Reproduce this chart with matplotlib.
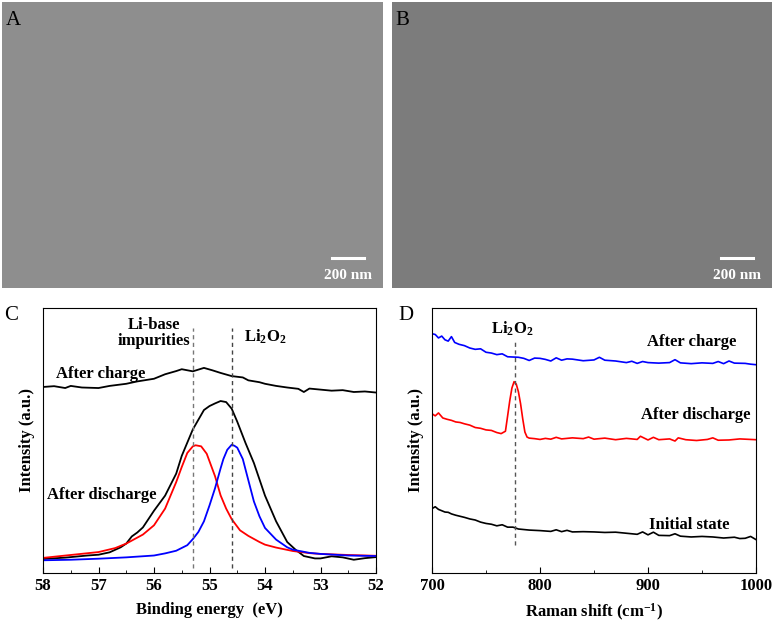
import matplotlib
matplotlib.use("Agg")
import matplotlib.pyplot as plt

plt.rcParams['font.family'] = ['Liberation Serif', 'DejaVu Serif']
plt.rcParams['mathtext.fontset'] = 'custom'
plt.rcParams['mathtext.rm'] = 'Liberation Serif:bold'
plt.rcParams['mathtext.it'] = 'Liberation Serif:bold'
plt.rcParams['mathtext.bf'] = 'Liberation Serif:bold'

# ---- panel C: XPS Li 1s ----
be_charge = [58.0, 57.8, 57.6, 57.5, 57.3, 57.0, 56.8, 56.5, 56.3, 56.0, 55.8, 55.6,
             55.5, 55.3, 55.1, 54.95, 54.8, 54.6, 54.4, 54.3, 54.1, 54.0, 53.8,
             53.6, 53.4, 53.3, 53.2, 53.0, 52.8, 52.6, 52.4, 52.2, 52.0]
int_charge = [70.2, 70.5, 69.8, 70.6, 70.0, 69.8, 70.6, 71.4, 72.3, 73.3, 75.0, 76.2,
              76.9, 76.1, 77.4, 76.5, 75.5, 74.3, 73.8, 72.7, 72.0, 71.4, 70.6,
              70.0, 69.5, 68.3, 69.6, 69.2, 68.8, 69.0, 68.3, 68.5, 68.1]

be_dis = [58.0, 57.6, 57.2, 57.0, 56.8, 56.6, 56.5, 56.4, 56.3, 56.2, 56.0, 55.8,
          55.6, 55.5, 55.3, 55.1, 55.0, 54.9, 54.8, 54.7, 54.6, 54.5, 54.35,
          54.2, 54.0, 53.8, 53.6, 53.45, 53.3, 53.1, 53.0, 52.8, 52.6, 52.4,
          52.2, 52.0]
int_dis = [5.3, 5.8, 6.6, 6.9, 7.8, 9.7, 11.1, 13.8, 15.3, 17.2, 23.5, 29.2,
           37.5, 44.2, 54.2, 61.5, 63.0, 64.0, 64.9, 64.5, 62.0, 57.1, 49.0,
           41.5, 29.2, 19.5, 11.7, 8.8, 6.4, 5.5, 5.5, 6.3, 5.9, 5.0, 5.6, 6.0]

be_red = [58.0, 57.5, 57.0, 56.7, 56.5, 56.2, 56.0, 55.8, 55.6, 55.5, 55.4, 55.3,
          55.25, 55.15, 55.05, 54.9, 54.8, 54.7, 54.6, 54.45, 54.3, 54.1, 54.0,
          53.8, 53.5, 53.2, 53.0, 52.5, 52.0]
int_red = [5.7, 6.8, 7.9, 9.4, 11.1, 14.5, 18.0, 24.3, 34.3, 40.0, 45.3, 47.8,
           48.2, 47.8, 45.0, 36.5, 29.3, 24.3, 20.3, 16.1, 14.0, 11.7, 10.7,
           9.6, 8.3, 7.5, 7.2, 6.8, 6.5]

be_blue = [58.0, 57.5, 57.0, 56.5, 56.0, 55.8, 55.6, 55.4, 55.3, 55.2, 55.1, 55.0,
           54.9, 54.8, 54.75, 54.68, 54.6, 54.55, 54.5, 54.4, 54.3, 54.2, 54.1,
           54.0, 53.8, 53.6, 53.5, 53.2, 53.0, 52.5, 52.0]
int_blue = [4.8, 5.0, 5.4, 5.9, 6.6, 7.4, 8.4, 10.5, 12.8, 15.5, 19.5, 25.5,
            32.0, 39.5, 43.0, 46.5, 48.4, 48.0, 47.3, 43.0, 35.0, 27.0, 21.4,
            17.0, 12.6, 9.7, 8.8, 7.6, 7.2, 6.6, 6.4]

# ---- panel D: Raman ----
rs_charge = [700, 703, 706, 709, 712, 715, 718, 721, 725, 730, 735, 740, 745, 750, 755,
             760, 765, 770, 775, 780, 785, 790, 795, 800, 805, 810, 815, 820, 825,
             830, 840, 850, 855, 860, 870, 880, 885, 890, 895, 900, 910, 920, 925,
             930, 940, 950, 960, 965, 970, 975, 980, 990, 995, 1000]
int_charge_r = [90.3, 90.0, 88.7, 89.4, 88.0, 87.5, 89.2, 87.0, 86.3, 85.8, 84.9, 84.4,
                84.6, 83.3, 83.0, 82.4, 82.7, 81.6, 81.5, 81.4, 81.0, 80.2, 81.1, 81.0,
                80.6, 80.0, 81.2, 80.3, 80.8, 80.7, 80.1, 80.4, 81.4, 80.3, 80.0, 79.4,
                79.9, 79.1, 79.8, 79.4, 79.2, 79.4, 80.5, 79.3, 79.0, 79.3, 79.1, 79.8,
                79.0, 80.0, 79.2, 79.1, 78.8, 78.6]

rs_dis = [700, 703, 706, 710, 714, 718, 722, 726, 730, 735, 740, 745, 750, 755, 760,
          764, 768, 770, 772, 774, 776, 778, 780, 782, 784, 786, 788, 790, 795,
          800, 805, 810, 815, 820, 830, 840, 845, 850, 860, 870, 880, 890, 893,
          900, 905, 910, 920, 925, 928, 935, 945, 955, 960, 965, 975, 985, 1000]
int_dis_r = [60.1, 59.3, 60.4, 58.5, 58.0, 57.6, 57.0, 56.8, 56.3, 55.8, 54.9, 54.6,
             54.0, 53.8, 53.0, 52.6, 53.5, 59.2, 65.0, 69.8, 72.2, 71.3, 68.4, 63.9,
             58.2, 53.2, 51.3, 50.9, 50.7, 50.4, 50.8, 50.5, 51.2, 50.6, 51.0, 50.7,
             51.3, 50.5, 50.9, 50.3, 50.8, 50.4, 51.6, 50.2, 51.2, 50.3, 50.6, 49.8,
             51.0, 50.3, 50.0, 50.4, 51.0, 50.1, 50.2, 50.6, 50.3]

rs_init = [700, 703, 706, 709, 712, 715, 718, 722, 726, 730, 735, 740, 745, 750, 755,
           760, 765, 770, 775, 780, 790, 800, 810, 815, 820, 825, 830, 840, 850,
           860, 870, 880, 890, 895, 900, 905, 910, 920, 925, 930, 940, 950, 960,
           970, 980, 985, 990, 995, 1000]
int_init = [24.3, 25.0, 24.0, 23.5, 23.0, 22.9, 22.3, 21.8, 21.4, 21.0, 20.4, 20.0,
            19.2, 18.7, 18.4, 17.8, 18.2, 17.3, 17.3, 16.6, 16.2, 16.0, 15.7, 16.3,
            15.6, 16.1, 15.5, 15.6, 15.5, 15.3, 15.4, 15.0, 14.6, 15.5, 14.4, 15.4,
            14.2, 14.1, 14.8, 13.9, 13.6, 13.8, 13.6, 13.2, 13.5, 13.0, 13.1, 13.8, 12.6]

fig = plt.figure(figsize=(7.75, 6.25), dpi=100)

bold = dict(fontweight='bold')

# ---- SEM panels (placeholders, micrographs are not data) ----
sem_boxes = [(2, 383, 2, 288, '#8e8e8e', 'A'), (392, 772, 2, 288, '#7c7c7c', 'B')]
for (x0, x1, y0, y1, col, lab) in sem_boxes:
    ax = fig.add_axes([x0 / 775, 1 - y1 / 625, (x1 - x0) / 775, (y1 - y0) / 625])
    ax.set_facecolor(col)
    ax.set_xlim(0, 1)
    ax.set_ylim(0, 1)
    ax.set_xticks([])
    ax.set_yticks([])
    for s in ax.spines.values():
        s.set_visible(False)
    ax.text(0.01, 0.97, lab, fontsize=15, va='top', ha='left', color='black')
    ax.plot([0.865, 0.95], [0.105, 0.105], color='white', lw=2.2)
    ax.text(0.908, 0.045, '200 nm', color='white', fontsize=11, ha='center',
            va='center', **bold)

# ---- panel C ----
axc = fig.add_axes([43 / 775, 1 - 573 / 625, 333 / 775, 265 / 625])
axc.plot(be_charge, int_charge, color='black', lw=1.3)
axc.plot(be_dis, int_dis, color='black', lw=1.3)
axc.plot(be_red, int_red, color='red', lw=1.3)
axc.plot(be_blue, int_blue, color='blue', lw=1.3)
axc.plot([55.29, 55.29], [2.0, 92.5], color='#777777', lw=1, ls=(0, (3, 2.5)))
axc.plot([54.59, 54.59], [2.0, 92.5], color='#444444', lw=1, ls=(0, (3, 2.5)))
axc.set_xlim(58, 52)
axc.set_ylim(0, 100)
axc.set_xticks([58, 57, 56, 55, 54, 53, 52])
axc.set_xticks([57.5, 56.5, 55.5, 54.5, 53.5, 52.5], minor=True)
axc.set_yticks([])
axc.tick_params(axis='x', which='both', direction='in', labelsize=12)
axc.tick_params(axis='x', which='major', length=4)
axc.tick_params(axis='x', which='minor', length=2.5)
for t in axc.get_xticklabels():
    t.set_fontweight('bold')
axc.set_xlabel('Binding energy  (eV)', fontsize=12, labelpad=6, **bold)
axc.set_ylabel('Intensity (a.u.)', fontsize=12, labelpad=6, **bold)
axc.text(56.0, 90.5, 'Li-base\nimpurities', fontsize=12, ha='center', va='center',
         linespacing=1.0, **bold)
axc.text(54.0, 89.0, 'Li$_2$O$_2$', fontsize=12, ha='center', va='center', **bold)
axc.text(57.77, 75.0, 'After charge', fontsize=12, ha='left', va='center', **bold)
axc.text(57.92, 29.5, 'After discharge', fontsize=12, ha='left', va='center', **bold)
fig.text(4 / 775, 1 - 315 / 625, 'C', fontsize=15, ha='left', va='center')

# ---- panel D ----
axd = fig.add_axes([432 / 775, 1 - 573 / 625, 324 / 775, 265 / 625])
axd.plot(rs_charge, int_charge_r, color='blue', lw=1.2)
axd.plot(rs_dis, int_dis_r, color='red', lw=1.2)
axd.plot(rs_init, int_init, color='black', lw=1.2)
axd.plot([776.5, 776.5], [10.5, 87.5], color='#555555', lw=1, ls=(0, (3, 2.5)))
axd.set_xlim(700, 1000)
axd.set_ylim(0, 100)
axd.set_xticks([700, 800, 900, 1000])
axd.set_xticks([750, 850, 950], minor=True)
axd.set_yticks([])
axd.tick_params(axis='x', which='both', direction='in', labelsize=12)
axd.tick_params(axis='x', which='major', length=4)
axd.tick_params(axis='x', which='minor', length=2.5)
for t in axd.get_xticklabels():
    t.set_fontweight('bold')
axd.set_xlabel('Raman shift (cm$^{-1}$)', fontsize=12, labelpad=6, **bold)
axd.set_ylabel('Intensity (a.u.)', fontsize=12, labelpad=6, **bold)
axd.text(774, 92.0, 'Li$_2$O$_2$', fontsize=12, ha='center', va='center', **bold)
axd.text(940, 87.0, 'After charge', fontsize=12, ha='center', va='center', **bold)
axd.text(944, 59.8, 'After discharge', fontsize=12, ha='center', va='center', **bold)
axd.text(938, 18.3, 'Initial state', fontsize=12, ha='center', va='center', **bold)
fig.text(398 / 775, 1 - 315 / 625, 'D', fontsize=15, ha='left', va='center')

fig.savefig('out.png', dpi=100)
